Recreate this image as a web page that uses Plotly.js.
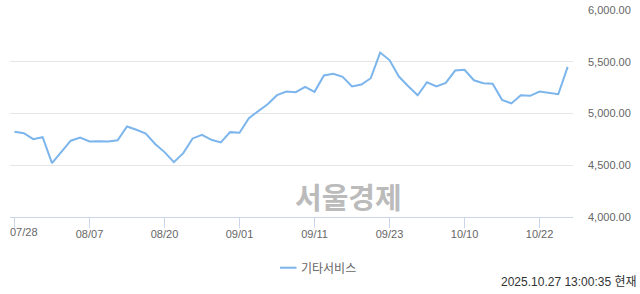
<!DOCTYPE html>
<html>
<head>
<meta charset="utf-8">
<script src="https://cdn.plot.ly/plotly-3.0.1.min.js"></script>
<style>
  html, body { margin: 0; padding: 0; background: #ffffff; }
  #chart { width: 640px; height: 294px; }
</style>
</head>
<body>
<div id="chart"></div>
<script>
const dates = [
  '07/28','07/29','07/30','07/31','08/01','08/04','08/05','08/06','08/07','08/08',
  '08/11','08/12','08/13','08/14','08/18','08/19','08/20','08/21','08/22','08/25',
  '08/26','08/27','08/28','08/29','09/01','09/02','09/03','09/04','09/05','09/08',
  '09/09','09/10','09/11','09/12','09/15','09/16','09/17','09/18','09/19','09/22',
  '09/23','09/24','09/25','09/26','09/29','09/30','10/01','10/02','10/10','10/13',
  '10/14','10/15','10/16','10/17','10/20','10/21','10/22','10/23','10/24','10/27'
];
const values = [
  4823, 4810, 4752, 4771, 4520, 4630, 4737, 4768, 4730, 4733,
  4730, 4742, 4875, 4843, 4807, 4706, 4627, 4530, 4617, 4759,
  4794, 4746, 4720, 4820, 4814, 4955, 5026, 5090, 5177, 5212,
  5206, 5258, 5209, 5367, 5383, 5354, 5261, 5280, 5341, 5589,
  5516, 5357, 5263, 5176, 5302, 5261, 5296, 5415, 5422, 5321,
  5292, 5287, 5132, 5097, 5177, 5171, 5212, 5200, 5186, 5451
];
const seriesName = '기타서비스';
const xTickLabels = ['07/28','08/07','08/20','09/01','09/11','09/23','10/10','10/22'];
const yTickValues = [4000, 4500, 5000, 5500, 6000];
const watermark = '서울경제';
const timestamp = '2025.10.27 13:00:35 현재';

const lineColor = '#7cb5ec';
const plotL = 10, plotW = 563, plotB = 217, plotH = 207;
const px = x => (x - plotL) / plotW;
const py = y => (plotB - y) / plotH;

const trace = {
  type: 'scatter',
  mode: 'lines',
  x: dates,
  y: values,
  name: seriesName,
  line: { color: lineColor, width: 2 },
  hoverinfo: 'skip',
  showlegend: false
};

const layout = {
  width: 640,
  height: 294,
  margin: { l: 10, r: 67, t: 10, b: 77 },
  paper_bgcolor: '#ffffff',
  plot_bgcolor: '#ffffff',
  font: { family: 'Liberation Sans, Arial, sans-serif', size: 11, color: '#666666' },
  showlegend: false,
  xaxis: {
    type: 'category',
    range: [-0.48, 59.57],
    tickmode: 'array',
    tickvals: xTickLabels,
    ticktext: xTickLabels.map((t, i) => i === 0 ? '' : t),
    ticks: 'outside',
    ticklen: 10,
    tickcolor: '#ccd6eb',
    tickwidth: 1,
    ticklabelstandoff: -3,
    showline: true,
    linecolor: '#ccd6eb',
    linewidth: 1,
    showgrid: false,
    zeroline: false,
    tickfont: { size: 11, color: '#666666' },
    automargin: false,
    fixedrange: true
  },
  yaxis: {
    side: 'right',
    range: [4000, 6000],
    tickmode: 'array',
    tickvals: yTickValues,
    ticktext: yTickValues.map(v => v.toLocaleString('en-US', { minimumFractionDigits: 2, maximumFractionDigits: 2 })),
    ticks: '',
    ticklabelstandoff: 14,
    showgrid: true,
    gridcolor: '#e6e6e6',
    gridwidth: 1,
    showline: false,
    zeroline: false,
    tickfont: { size: 11, color: '#666666' },
    automargin: false,
    fixedrange: true
  },
  shapes: [
    {
      type: 'line', xref: 'paper', yref: 'paper',
      x0: px(280), x1: px(296.5), y0: py(267.7), y1: py(267.7),
      line: { color: lineColor, width: 2 }
    }
  ],
  annotations: [
    {
      xref: 'x', yref: 'paper',
      x: xTickLabels[0], y: 0,
      yshift: -15, xshift: 9,
      text: xTickLabels[0],
      showarrow: false,
      xanchor: 'center', yanchor: 'middle',
      font: { size: 11, color: '#666666' }
    },
    {
      xref: 'paper', yref: 'paper',
      x: px(300.5), y: py(267.5),
      text: seriesName,
      showarrow: false,
      xanchor: 'left', yanchor: 'middle',
      xshift: -2,
      font: { family: 'Noto Sans CJK KR, sans-serif', size: 12, color: '#666666' }
    },
    {
      xref: 'paper', yref: 'paper',
      x: px(348), y: py(196),
      text: watermark,
      showarrow: false,
      xanchor: 'center', yanchor: 'middle',
      font: { family: 'Noto Sans CJK KR, sans-serif', size: 29, color: '#bbbbbb', weight: 'bold' }
    },
    {
      xref: 'paper', yref: 'paper',
      x: px(637), y: py(282),
      text: timestamp,
      showarrow: false,
      xanchor: 'right', yanchor: 'middle',
      xshift: 2,
      font: { family: 'Liberation Sans, Noto Sans CJK KR, sans-serif', size: 12, color: '#333333' }
    }
  ]
};

Plotly.newPlot('chart', [trace], layout, { displayModeBar: false, staticPlot: true });
</script>
</body>
</html>
